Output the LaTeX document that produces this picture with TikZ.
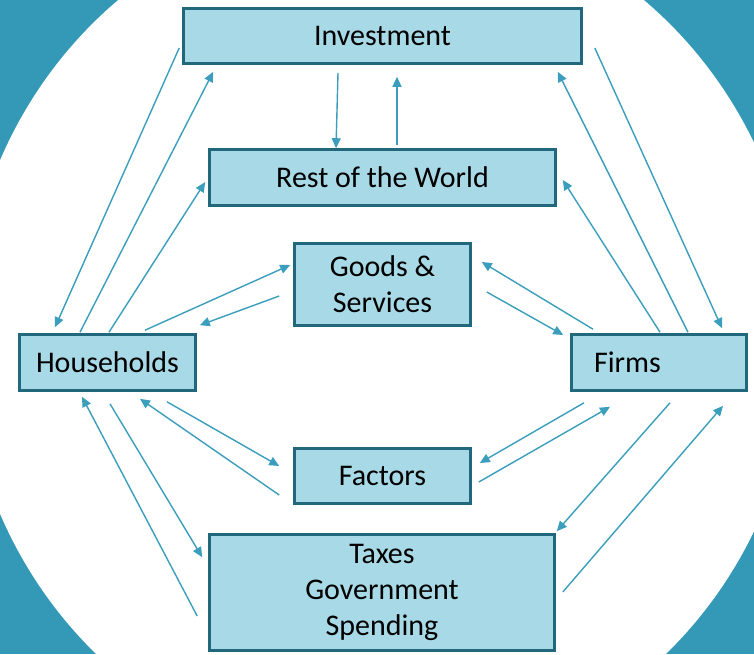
\documentclass[tikz,border=0pt]{standalone}
\usepackage{fontspec}
\setmainfont{Carlito}
\usetikzlibrary{arrows.meta,calc,positioning}
\definecolor{sea}{HTML}{3399B6}
\definecolor{boxfill}{HTML}{A8D9E6}
\definecolor{boxline}{HTML}{22687C}
\definecolor{flowline}{HTML}{3A9EBC}
\tikzset{
>={Triangle[length=10pt,width=9pt]},
  box/.style={
    rectangle,
    fill=boxfill,
    draw=boxline, line width=2.6pt,
    inner sep=0pt,
    align=center,
    text=black,
    font=\fontsize{30}{36}\selectfont},
  flow/.style={draw=flowline, line width=1.4pt, ->},
}

\begin{document}
\begin{tikzpicture}
  [x=1pt, y=-1pt]
    \useasboundingbox (0,0) rectangle (754,654);
    \fill[sea] (0,0) rectangle (754,654);
    \fill[white] (381,337) ellipse [x radius=417pt, y radius=434pt];

    \node[box, minimum width=398pt, minimum height=55pt] (inv) at (382.5,36) {Investment};
    \node[box, minimum width=346pt, minimum height=56pt] (row) at (382.5,177.5) {Rest of the World};
    \node[box, minimum width=176pt, minimum height=82pt] (goods) at (382.5,284.5) {Goods \&\\Services};
    \node[box, minimum width=176pt, minimum height=56pt] (hh) at (107.5,362.5) {Households};
    \node[box, minimum width=175pt, minimum height=56pt, text width=130pt, align=left, inner xsep=22.5pt] (firms) at (659,362.5) {Firms};
    \node[box, minimum width=176pt, minimum height=55pt] (fac) at (382.5,476) {Factors};
    \node[box, minimum width=345pt, minimum height=116pt] (tax) at (382,592.5) {Taxes\\Government\\Spending};

    % households side
    \draw[flow] ([shift={(-3,12)}]inv.west) -- ([shift={(-52.5,-6)}]hh.north);
    \draw[flow] ([shift={(-27.5,-1)}]hh.north) -- ([shift={(31,7)}]inv.south west);
    \draw[flow] ([shift={(1.5,-1)}]hh.north) -- ([shift={(-3,4.5)}]row.west);
    \draw[flow] ([shift={(37.5,-3)}]hh.north) -- ([shift={(-3,-19.5)}]goods.west);
    \draw[flow] ([shift={(-14,11.5)}]goods.west) -- ([shift={(3,-8)}]hh.north east);
    \draw[flow] ([shift={(59.5,10)}]hh.south) -- ([shift={(-14,-10)}]fac.west);
    \draw[flow] ([shift={(-14,19)}]fac.west) -- ([shift={(32.5,7)}]hh.south);
    \draw[flow] ([shift={(2.5,12)}]hh.south) -- ([shift={(-6,24)}]tax.north west);
    \draw[flow] ([shift={(-11,23.5)}]tax.west) -- ([shift={(-25.5,5)}]hh.south);

    % firms side
    \draw[flow] ([shift={(12,12)}]inv.east) -- ([shift={(63,-5)}]firms.north);
    \draw[flow] ([shift={(29,-1)}]firms.north) -- ([shift={(-25,7)}]inv.south east);
    \draw[flow] ([shift={(1,-1)}]firms.north) -- ([shift={(6,2.5)}]row.east);
    \draw[flow] ([shift={(-66,-4)}]firms.north) -- ([shift={(10,-22.5)}]goods.east);
    \draw[flow] ([shift={(15,7.5)}]goods.east) -- ([shift={(-7,-27.5)}]firms.west);
    \draw[flow] ([shift={(-75,11)}]firms.south) -- ([shift={(8,-13)}]fac.east);
    \draw[flow] ([shift={(7,6)}]fac.east) -- ([shift={(-49,15)}]firms.south);
    \draw[flow] ([shift={(11,11)}]firms.south) -- ([shift={(1,-2)}]tax.north east);
    \draw[flow] ([shift={(7,-0.5)}]tax.east) -- ([shift={(64,14)}]firms.south);

    \draw[flow] ([shift={(-44.5,8)}]inv.south) -- ([shift={(-46.5,0)}]row.north);
    \draw[flow] ([shift={(14.5,-3)}]row.north) -- ([shift={(14.5,12)}]inv.south);

\end{tikzpicture}
\end{document}
